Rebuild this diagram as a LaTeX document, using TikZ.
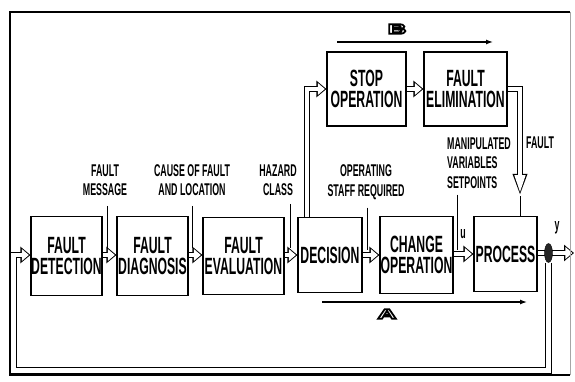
\documentclass[tikz,border=0pt]{standalone}
\usepackage{fontspec}
\usetikzlibrary{arrows.meta,shapes.geometric}
\newfontfamily\narrowfam{Liberation Sans}[FakeStretch=0.52]
\newfontfamily\widefam{Liberation Sans}[FakeStretch=1.9]
\newcommand\boxfont{\narrowfam\bfseries\fontsize{23.5}{21.5}\selectfont}
\newcommand\lblfont{\narrowfam\bfseries\fontsize{17}{19.5}\selectfont}
\newcommand\hollowtxt[1]{\textcolor{white}{\special{pdf:literal direct 0 G 2 Tr 1.8 w}#1\special{pdf:literal direct 0 Tr}}}
\pgfdeclarelayer{bg}
\pgfsetlayers{bg,main}
\begin{document}
\begin{tikzpicture}[x=1pt,y=-1pt,
  box/.style={draw, line width=1.1pt, fill=white, inner sep=0pt, font=\boxfont, align=center},
  pipe/.style={draw=white, line width=4.6pt, -{Triangle[length=7pt,width=11.5pt]}, shorten >=1.6pt,
     preaction={draw=black, line width=6.6pt, -{Triangle[length=10pt,width=16pt]}, shorten >=0pt}},
  pipelong/.style={draw=white, line width=4.6pt, -{Triangle[length=19pt,width=9.5pt]}, shorten >=1.8pt,
     preaction={draw=black, line width=6.6pt, -{Triangle[length=22pt,width=13pt]}, shorten >=0pt}},
  lbl/.style={font=\lblfont, align=center, inner sep=0pt},
  leader/.style={line width=0.9pt},
  thinarr/.style={line width=1.3pt, -{Latex[length=7pt,width=5pt]}},
  hl/.style={font=\widefam\bfseries\fontsize{14}{14}\selectfont, inner sep=0pt}]
\useasboundingbox (0,0) rectangle (575,382);
% frame
\draw[line width=1.6pt] (570,375) -- (10,375) -- (10,12) -- (570,12);
\draw[line width=0.6pt, black!35] (570,12) -- (570,375);
% boxes
\node[box, minimum width=71pt, minimum height=79pt] (det) at (66.5,256) {FAULT\\DETECTION};
\node[box, minimum width=71pt, minimum height=79pt] (diag) at (152.5,256) {FAULT\\DIAGNOSIS};
\node[box, minimum width=81pt, minimum height=77pt] (eval) at (243.5,256) {FAULT\\EVALUATION};
\node[box, minimum width=64pt, minimum height=75pt] (dec) at (330,255) {DECISION};
\node[box, minimum width=73pt, minimum height=77pt] (chg) at (416.5,255) {CHANGE\\OPERATION};
\node[box, minimum width=63pt, minimum height=75pt] (proc) at (505.5,254) {PROCESS};
\node[box, minimum width=79pt, minimum height=74pt] (stop) at (366.5,89) {STOP\\OPERATION};
\node[box, minimum width=83pt, minimum height=74pt] (elim) at (465.5,89) {FAULT\\ELIMINATION};
\node[draw, fill=black!85, ellipse, minimum width=8pt, minimum height=19pt, inner sep=0pt] (yn) at (548.5,253) {};
% labels
\node[lbl] (fm) at (105,180) {FAULT\\MESSAGE};
\node[lbl] (cf) at (192,180) {CAUSE OF FAULT\\AND LOCATION};
\node[lbl] (hz) at (278,180) {HAZARD\\CLASS};
\node[lbl] (os) at (366,182) {OPERATING\\STAFF REQUIRED};
\node[lbl, align=left, anchor=west] (mv) at (447,163) {MANIPULATED\\VARIABLES\\SETPOINTS};
\node[lbl] (fl) at (540,143) {FAULT};
\node[lbl] (ul) at (463,234) {u};
\node[lbl] (yl) at (557,228) {y};
\node[hl] (bl) at (397,29) {\hollowtxt{B}};
\node[hl] (al) at (387,314) {\hollowtxt{A}};
% coordinates
\coordinate (fb) at (13.5,370.5);
\coordinate (outend) at (574,253);
\coordinate (ftip) at (520,196);
\coordinate (b1) at (337,42);
\coordinate (b2) at (493,42);
\coordinate (a1) at (322,302);
\coordinate (a2) at (527,302);
% leaders
\draw[leader] ([shift={(2pt,-10pt)}]fm.south) -- ++(0,42);
\draw[leader] ([shift={(0pt,-10pt)}]cf.south) -- ++(0,42);
\draw[leader] ([shift={(12pt,-8pt)}]hz.south) -- ++(0,44);
\draw[leader] ([shift={(1pt,-8pt)}]os.south) -- ++(0,42);
\draw[leader] ([shift={(10pt,-6pt)}]mv.south west) -- ++(0,55);
% thin arrows
\draw[thinarr] (b1) -- (b2);
\draw[thinarr] (a1) -- (a2);
\begin{pgfonlayer}{bg}
\draw[pipe] (det.east |- 0,255) -- (diag.west |- 0,255);
\draw[pipe] (diag.east |- 0,255) -- (eval.west |- 0,255);
\draw[pipe] (eval.east |- 0,255) -- (dec.west |- 0,255);
\draw[pipe] (dec.east |- 0,255) -- (chg.west |- 0,255);
\draw[pipe] (chg.east |- 0,254) -- (proc.west |- 0,254);
\draw[pipe] (proc.east |- 0,253) -- (outend);
\draw[pipe] ([xshift=-23pt]dec.north) |- (stop.west);
\draw[pipe] (stop.east) -- (elim.west);
\draw[pipelong] (elim.east) -| (ftip);
\draw[line width=1pt] (ftip) -- ([xshift=14.5pt]proc.north);
\draw[pipe] (yn.south) |- (fb) |- (det.west |- 0,255);
\end{pgfonlayer}
\end{tikzpicture}
\end{document}
